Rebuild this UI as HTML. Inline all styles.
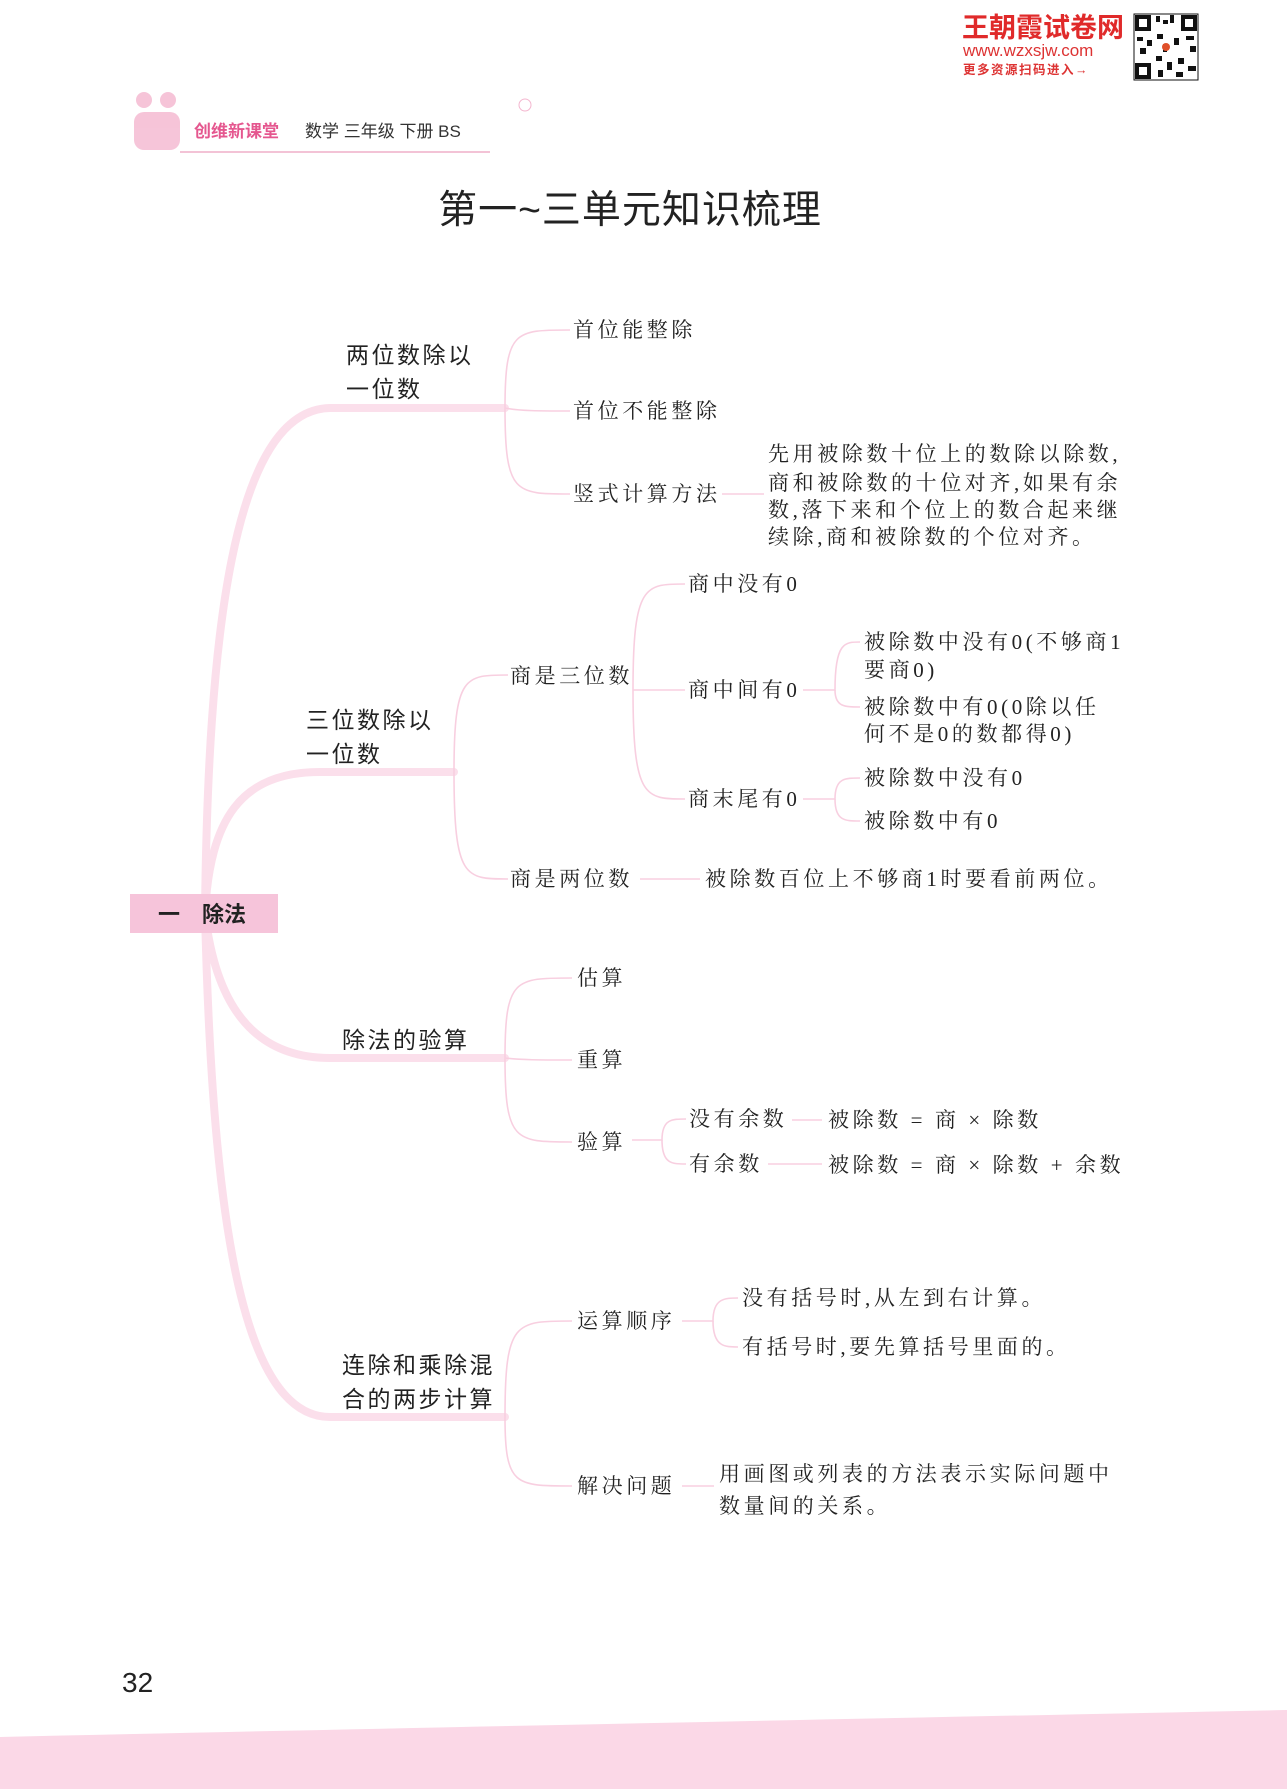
<!DOCTYPE html>
<html><head><meta charset="utf-8"><style>
html,body{margin:0;padding:0;background:#fff}
svg{display:block}
.s{font-family:"Liberation Sans","Noto Sans CJK SC",sans-serif;font-size:23px;fill:#222;letter-spacing:2.5px}
.r{font-family:"Liberation Serif","Noto Serif CJK SC",serif;font-size:21px;fill:#222;letter-spacing:3.6px}
</style></head><body>
<svg width="1287" height="1789" viewBox="0 0 1287 1789" xmlns="http://www.w3.org/2000/svg">
<!-- header -->
<text x="962" y="37" font-family="Liberation Sans,Noto Sans CJK SC,sans-serif" font-weight="bold" font-size="27" fill="#e02a2a">王朝霞试卷网</text>
<text x="963" y="56" font-family="Liberation Sans,sans-serif" font-size="17" fill="#d33">www.wzxsjw.com</text>
<text x="963" y="74" font-family="Liberation Sans,Noto Sans CJK SC,sans-serif" font-weight="bold" font-size="12.5" fill="#d33" letter-spacing="1.5">更多资源扫码进入→</text>
<g fill="#111">
<rect x="1134" y="14" width="64" height="66" fill="#fff" stroke="#111" stroke-width="1"/>
<rect x="1135" y="15" width="16" height="16"/><rect x="1139" y="19" width="8" height="8" fill="#fff"/>
<rect x="1181" y="15" width="16" height="16"/><rect x="1185" y="19" width="8" height="8" fill="#fff"/>
<rect x="1135" y="63" width="16" height="16"/><rect x="1139" y="67" width="8" height="8" fill="#fff"/>
<rect x="1156" y="16" width="4" height="6"/><rect x="1163" y="20" width="5" height="4"/><rect x="1170" y="15" width="4" height="8"/>
<rect x="1137" y="37" width="6" height="4"/><rect x="1147" y="40" width="5" height="6"/><rect x="1157" y="34" width="6" height="5"/>
<rect x="1174" y="38" width="5" height="7"/><rect x="1186" y="36" width="8" height="4"/><rect x="1190" y="46" width="6" height="6"/>
<rect x="1156" y="56" width="6" height="5"/><rect x="1167" y="62" width="5" height="8"/><rect x="1178" y="58" width="6" height="6"/>
<rect x="1188" y="66" width="8" height="5"/><rect x="1158" y="70" width="5" height="7"/><rect x="1176" y="72" width="7" height="5"/>
<rect x="1140" y="48" width="6" height="6"/><rect x="1163" y="44" width="4" height="8"/>
</g>
<circle cx="1166" cy="47" r="4" fill="#e0502a"/>
<!-- book header -->
<g fill="#f4b6cf" opacity="0.8"><circle cx="144" cy="100" r="8"/><circle cx="168" cy="100" r="8"/><rect x="134" y="112" width="46" height="38" rx="10"/></g>
<circle cx="525" cy="105" r="6" fill="none" stroke="#f4b6cf"/>
<text x="194" y="137" font-family="Liberation Sans,Noto Sans CJK SC,sans-serif" font-weight="bold" font-size="17" fill="#e5578f">创维新课堂</text>
<text x="305" y="137" font-family="Liberation Sans,Noto Sans CJK SC,sans-serif" font-size="17" fill="#333">数学 三年级 下册 BS</text>
<line x1="180" y1="152" x2="490" y2="152" stroke="#f3c3d6" stroke-width="2"/>
<!-- title -->
<text x="630" y="223" text-anchor="middle" font-family="Liberation Sans,Noto Sans CJK SC,sans-serif" font-size="39" letter-spacing="1" fill="#222">第一~三单元知识梳理</text>

<!-- trunk -->
<g fill="none" stroke="#fbdfeb" stroke-width="8" stroke-linecap="round">
<path d="M205,913 C208,640 232,410 330,408 L505,408"/>
<path d="M205,913 C210,820 240,772 320,772 L454,772"/>
<path d="M205,913 C215,1000 250,1058 330,1058 L505,1058"/>
<path d="M205,913 C212,1200 238,1417 330,1417 L505,1417"/>
</g>
<!-- thin connectors -->
<g fill="none" stroke="#f8cfe0" stroke-width="1.6">
<path d="M505,408 C505,330 515,330 570,330"/>
<path d="M505,408 C520,411 540,411 570,411"/>
<path d="M505,408 C505,494 515,494 570,494"/>
<path d="M722,494 L764,494"/>
<path d="M454,772 C454,675 465,675 508,675"/>
<path d="M454,772 C454,879 465,879 508,879"/>
<path d="M640,879 L700,879"/>
<path d="M633,690 C633,584 645,584 685,584"/>
<path d="M633,690 L685,690"/>
<path d="M633,690 C633,799 645,799 685,799"/>
<path d="M803,690 L835,690 C835,642 845,642 860,642"/>
<path d="M835,690 C835,707 845,707 860,707"/>
<path d="M803,799 L835,799 C835,778 845,778 860,778"/>
<path d="M835,799 C835,821 845,821 860,821"/>
<path d="M505,1058 C505,978 515,978 572,978"/>
<path d="M505,1058 C520,1060 540,1060 572,1060"/>
<path d="M505,1058 C505,1142 515,1142 572,1142"/>
<path d="M632,1140 L662,1140 C662,1119 672,1119 686,1119"/>
<path d="M662,1140 C662,1164 672,1164 686,1164"/>
<path d="M792,1120 L822,1120"/>
<path d="M768,1164 L822,1164"/>
<path d="M505,1417 C505,1321 515,1321 572,1321"/>
<path d="M505,1417 C505,1486 515,1486 572,1486"/>
<path d="M682,1321 L713,1321 C713,1298 725,1298 738,1298"/>
<path d="M713,1321 C713,1347 725,1347 738,1347"/>
<path d="M682,1486 L714,1486"/>
</g>
<!-- root -->
<rect x="130" y="894" width="148" height="39" fill="#f6c4da"/>
<text x="158" y="922" font-family="Liberation Sans,Noto Sans CJK SC,sans-serif" font-weight="bold" font-size="22" fill="#222">一　除法</text>

<g dominant-baseline="central">
<text class="s" x="346" y="355">两位数除以</text>
<text class="s" x="346" y="389">一位数</text>
<text class="s" x="306" y="720">三位数除以</text>
<text class="s" x="306" y="754">一位数</text>
<text class="s" x="342" y="1040">除法的验算</text>
<text class="s" x="342" y="1365">连除和乘除混</text>
<text class="s" x="342" y="1399">合的两步计算</text>

<text class="r" x="573" y="330">首位能整除</text>
<text class="r" x="573" y="411">首位不能整除</text>
<text class="r" x="573" y="494">竖式计算方法</text>
<text class="r" x="768" y="454">先用被除数十位上的数除以除数,</text>
<text class="r" x="768" y="483">商和被除数的十位对齐,如果有余</text>
<text class="r" x="768" y="510">数,落下来和个位上的数合起来继</text>
<text class="r" x="768" y="537">续除,商和被除数的个位对齐。</text>

<text class="r" x="510" y="676">商是三位数</text>
<text class="r" x="510" y="879">商是两位数</text>
<text class="r" x="705" y="879">被除数百位上不够商1时要看前两位。</text>
<text class="r" x="688" y="584">商中没有0</text>
<text class="r" x="688" y="690">商中间有0</text>
<text class="r" x="688" y="799">商末尾有0</text>
<text class="r" x="864" y="642">被除数中没有0(不够商1</text>
<text class="r" x="864" y="670">要商0)</text>
<text class="r" x="864" y="707">被除数中有0(0除以任</text>
<text class="r" x="864" y="734">何不是0的数都得0)</text>
<text class="r" x="864" y="778">被除数中没有0</text>
<text class="r" x="864" y="821">被除数中有0</text>

<text class="r" x="577" y="978">估算</text>
<text class="r" x="577" y="1060">重算</text>
<text class="r" x="577" y="1142">验算</text>
<text class="r" x="689" y="1119">没有余数</text>
<text class="r" x="689" y="1164">有余数</text>
<text class="r" x="828" y="1120">被除数 = 商 × 除数</text>
<text class="r" x="828" y="1165">被除数 = 商 × 除数 + 余数</text>

<text class="r" x="577" y="1321">运算顺序</text>
<text class="r" x="577" y="1486">解决问题</text>
<text class="r" x="742" y="1298">没有括号时,从左到右计算。</text>
<text class="r" x="742" y="1347">有括号时,要先算括号里面的。</text>
<text class="r" x="719" y="1474">用画图或列表的方法表示实际问题中</text>
<text class="r" x="719" y="1506">数量间的关系。</text>
</g>

<text x="122" y="1692" font-family="Liberation Sans,sans-serif" font-size="28" fill="#222">32</text>
<path d="M0,1737 C400,1728 900,1718 1287,1710 L1287,1789 L0,1789 Z" fill="#fbd8e7"/>
</svg>
</body></html>
